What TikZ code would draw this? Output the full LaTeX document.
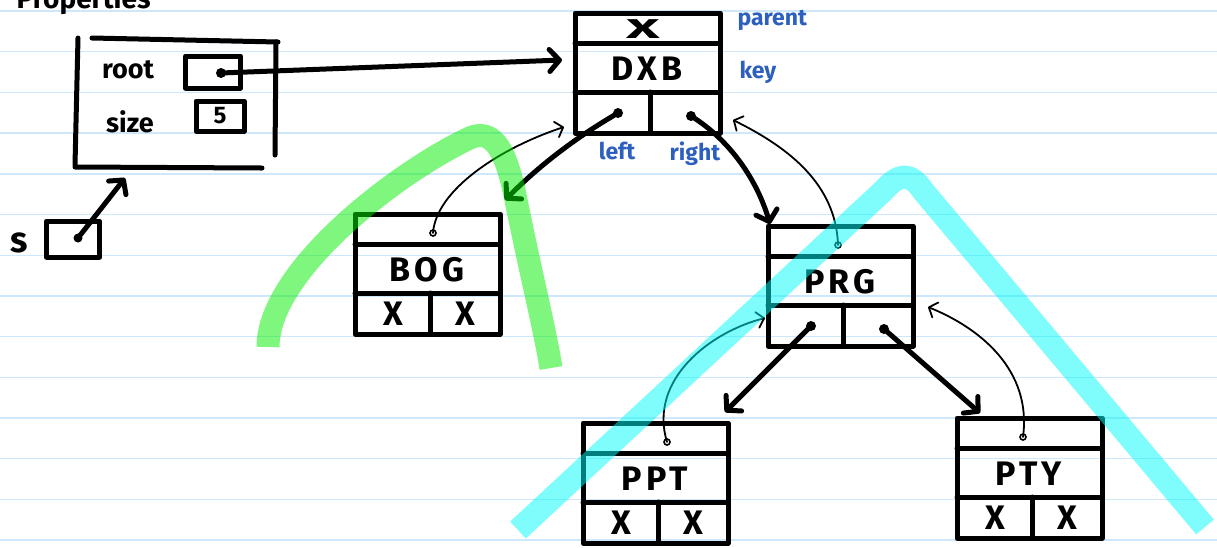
\documentclass[tikz,border=0pt]{standalone}
\usepackage{fontspec}
\setmainfont{Fira Sans}
\usetikzlibrary{arrows.meta}

\definecolor{ruled}{RGB}{205,232,250}
\definecolor{annot}{RGB}{45,95,190}
\definecolor{hlgreen}{RGB}{0,240,0}
\definecolor{hlcyan}{RGB}{0,250,250}

\tikzset{
  ink/.style={line width=5pt, line cap=round, line join=round},
  thinink/.style={line width=1.8pt, line cap=round},
  frame/.style={draw, ink, rectangle, minimum width=145pt, minimum height=120pt, inner sep=0pt},
  keytext/.style={font=\bfseries\fontsize{34}{36}\selectfont\addfontfeature{LetterSpace=12}},
  nulltext/.style={font=\bfseries\fontsize{34}{36}\selectfont},
  labeltext/.style={font=\bfseries\fontsize{27}{29}\selectfont},
  annottext/.style={text=annot, font=\bfseries\fontsize{23}{25}\selectfont},
  pointer/.style={ink, -{Straight Barb[length=10pt,width=22pt,round]}},
  backptr/.style={thinink, -{Straight Barb[length=7pt,width=16pt,round]}},
  highlight/.style={line width=23pt, opacity=0.5, line cap=butt, line join=round},
}

% record: name, top-left x, top-left y, key, parent-dot x offset
\newcommand{\record}[5]{%
  \node[frame] (#1) at ({#2+72.5},{#3+60}) {};
  \draw[ink] ({#2},{#3+30}) -- ({#2+145},{#3+30});
  \draw[ink] ({#2},{#3+79}) -- ({#2+145},{#3+79});
  \draw[ink] ({#2+75},{#3+79}) -- ({#2+75},{#3+120});
  \node[keytext] (#1-key) at ({#2+72},{#3+56}) {#4};
  \coordinate (#1-p) at ({#2+#5},{#3+19});
  \coordinate (#1-l) at ({#2+43},{#3+100});
  \coordinate (#1-r) at ({#2+116},{#3+103});
}
\newcommand{\parentring}[1]{\draw[line width=1.6pt] (#1-p) circle (3pt);}
\newcommand{\nullkids}[3]{%
  \node[nulltext] (#1-nl) at ({#2+38},{#3+100}) {X};
  \node[nulltext] (#1-nr) at ({#2+110},{#3+100}) {X};
}

\begin{document}
\begin{tikzpicture}[x=1pt,y=-1pt]
\useasboundingbox (0,0) rectangle (1217,547);
\fill[white] (0,0) rectangle (1217,547);

% ruled paper
\foreach \k in {0,...,13} {
  \draw[ruled, line width=1.4pt] (0,{11+40.7*\k}) -- (1217,{11+40.7*\k});
}

\node[anchor=base west, font=\bfseries\fontsize{28}{30}\selectfont] (title) at (13,8) {Properties};

% the set object
\draw[ink] (92,38) -- (278,42);
\draw[ink] (78,38) -- (75,165);
\draw[ink] (276,42) -- (275,155);
\draw[ink] (75,167) -- (262,168);
\node[labeltext] (rootlbl) at (128,70) {root};
\node[labeltext] (sizelbl) at (130,122) {size};
\node[draw, ink, minimum width=55pt, minimum height=32pt, inner sep=0pt] (rootbox) at (213,72) {};
\coordinate (rootdot) at (221,73);
\fill (rootdot) circle (5pt);
\node[draw, ink, minimum width=48pt, minimum height=30pt, inner sep=0pt, font=\bfseries\fontsize{24}{26}\selectfont] (sizebox) at (220,116) {5};

% variable s
\node[font=\bfseries\fontsize{36}{38}\selectfont] (slbl) at (19,243) {s};
\node[draw, ink, minimum width=53pt, minimum height=36pt, inner sep=0pt] (sbox) at (73,239) {};
\coordinate (sdot) at (78,238);
\fill (sdot) circle (4.5pt);
\coordinate (settop) at (125,178);

% tree records
\record{dxb}{575}{13}{DXB}{70}
\node[nulltext, yscale=0.8, xscale=1.7] (dxb-np) at (643,29) {X};
\record{bog}{355}{214}{BOG}{78}
\parentring{bog}
\nullkids{bog}{355}{214}
\record{prg}{768}{226}{PRG}{70}
\parentring{prg}
\record{ppt}{583}{423}{PPT}{84}
\parentring{ppt}
\nullkids{ppt}{583}{423}
\record{pty}{957}{418}{PTY}{66}
\parentring{pty}
\nullkids{pty}{957}{418}

\fill (dxb-l) circle (5pt);
\fill (dxb-r) circle (5pt);
\fill (prg-l) circle (5pt);
\fill (prg-r) circle (5pt);

% field annotations
\node[annottext, anchor=west] (aparent) at (734,20) {parent};
\node[annottext, anchor=west] (akey) at (736,72) {key};
\node[annottext] (aleft) at (617,151) {left};
\node[annottext] (aright) at (695,154) {right};

% arrow ends
\coordinate (bogtip) at (505,200);
\coordinate (prgtip) at (770,224);
\coordinate (ppttip) at (725,412);
\coordinate (ptytip) at (980,413);
\coordinate (dxbinL) at (564,127);
\coordinate (dxbinR) at (733,120);
\coordinate (prginL) at (765,318);
\coordinate (prginR) at (928,307);
\coordinate (dxbentry) at (562,60);

% pointers
\draw[pointer] (rootdot) -- (dxbentry);
\draw[pointer] (sdot) -- (settop);
\draw[pointer] (dxb-l) .. controls (575,138) and (540,165) .. (bogtip);
\draw[pointer] (dxb-r) .. controls (730,140) and (757,180) .. (prgtip);
\draw[pointer] (prg-l) -- (ppttip);
\draw[pointer] (prg-r) -- (ptytip);

% parent back-pointers
\draw[backptr] (bog-p) .. controls (436,190) and (500,148) .. (dxbinL);
\draw[backptr] (prg-p) .. controls (836,185) and (790,148) .. (dxbinR);
\draw[backptr] (ppt-p) .. controls (648,380) and (710,332) .. (prginL);
\draw[backptr] (pty-p) .. controls (1032,370) and (980,328) .. (prginR);

% highlighter strokes
\draw[highlight, hlgreen] (268,347) .. controls (268,270) and (400,170) .. (472,137)
  .. controls (497,128) and (508,160) .. (516,200) .. controls (530,270) and (545,330) .. (551,368);
\draw[highlight, hlcyan] (518,530) -- (882,192) .. controls (900,172) and (910,172) .. (924,192) -- (1205,527);
\end{tikzpicture}
\end{document}
